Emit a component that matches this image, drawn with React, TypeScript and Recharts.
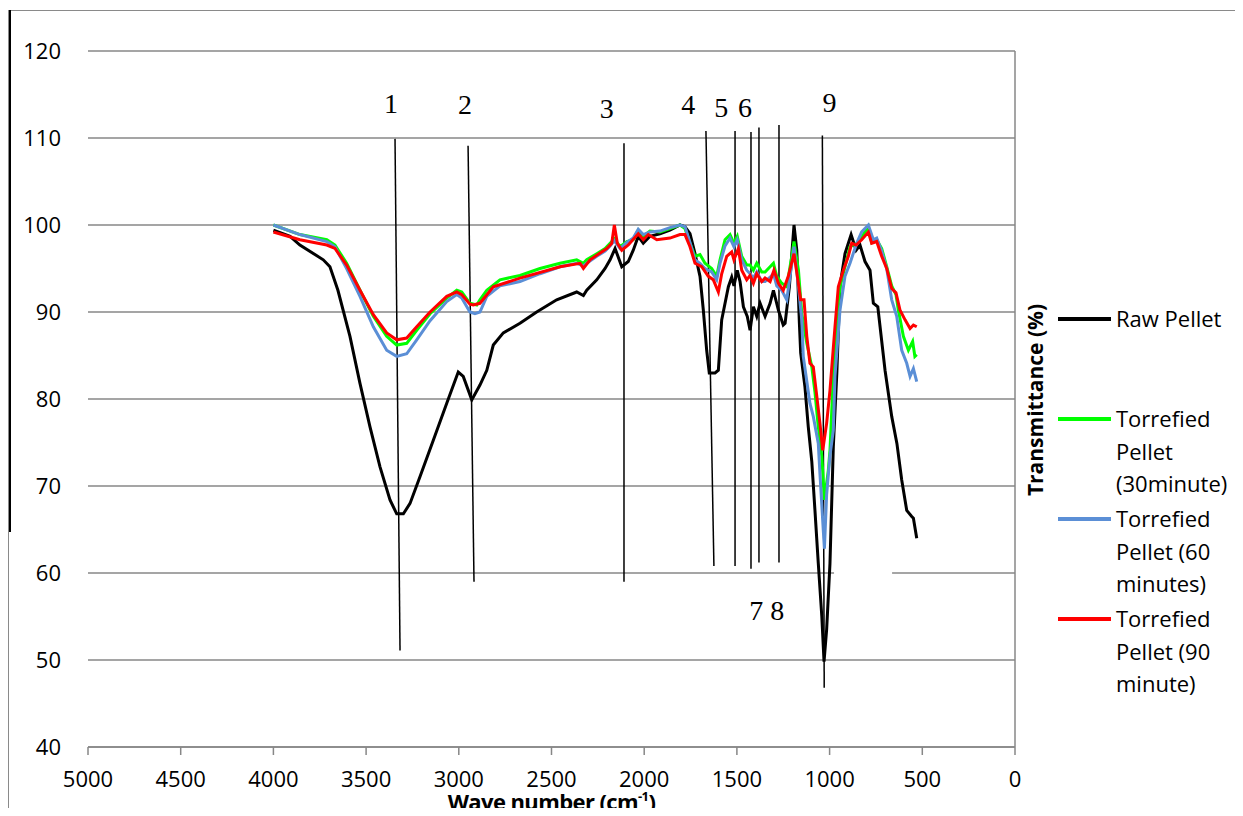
import React from 'react';
import {
  LineChart, Line, XAxis, YAxis, CartesianGrid, ReferenceLine, ReferenceDot, ReferenceArea,
} from 'recharts';

// ---- data (wave number cm-1, transmittance %) ----
const rawPellet: [number, number][] = [
  [4000, 99.4], [3910, 98.7], [3857, 97.7], [3731, 96.0], [3695, 95.2], [3652, 92.5], [3587, 87.2],
  [3533, 81.8], [3479, 76.8], [3425, 72.2], [3371, 68.4], [3335, 66.8], [3299, 66.8], [3263, 68.0],
  [3209, 71.1], [3137, 75.3], [3065, 79.5], [3003, 83.1], [2976, 82.6], [2930, 79.9], [2886, 81.6],
  [2849, 83.3], [2814, 86.2], [2760, 87.6], [2670, 88.7], [2580, 90.0], [2472, 91.4], [2364, 92.3],
  [2328, 91.9], [2310, 92.5], [2256, 93.7], [2211, 95.0], [2184, 96.0], [2157, 97.3], [2121, 95.2],
  [2086, 95.8], [2059, 97.1], [2032, 98.7], [2005, 97.9], [1969, 98.7], [1915, 99.0], [1861, 99.4],
  [1807, 100.0], [1780, 99.8], [1753, 99.0], [1726, 96.7], [1699, 94.1], [1681, 90.2], [1663, 85.6],
  [1649, 83.0], [1618, 83.0], [1600, 83.3], [1582, 89.1], [1546, 92.9], [1528, 94.0], [1516, 93.0],
  [1498, 94.8], [1483, 93.5], [1465, 90.6], [1444, 89.5], [1429, 87.9], [1411, 90.6], [1393, 89.5],
  [1375, 91.0], [1348, 89.5], [1321, 91.0], [1303, 92.5], [1276, 90.2], [1250, 88.5], [1240, 88.7],
  [1217, 92.9], [1192, 100.0], [1177, 97.1], [1163, 88.7], [1156, 85.3], [1133, 81.4], [1115, 76.8],
  [1096, 72.8], [1079, 67.2], [1061, 61.1], [1042, 55.0], [1030, 49.8], [1016, 53.5], [998, 61.1],
  [980, 74.5], [961, 83.0], [944, 93.0], [917, 96.7], [884, 98.9], [857, 97.1], [836, 97.7],
  [809, 95.8], [782, 94.8], [764, 91.0], [740, 90.6], [701, 83.3], [665, 78.0], [637, 74.9],
  [611, 70.7], [584, 67.2], [557, 66.5], [548, 66.3], [530, 64.0],
];

const torrefied30: [number, number][] = [
  [4000, 100.0], [3857, 98.9], [3712, 98.3], [3668, 97.7], [3605, 95.6], [3533, 92.5], [3461, 89.5],
  [3389, 87.2], [3335, 86.2], [3281, 86.4], [3227, 87.9], [3155, 89.8], [3065, 91.6], [3011, 92.5],
  [2984, 92.3], [2940, 91.0], [2903, 90.8], [2886, 91.4], [2849, 92.5], [2778, 93.7], [2670, 94.2],
  [2562, 95.0], [2454, 95.6], [2364, 96.0], [2328, 95.6], [2310, 96.0], [2256, 96.7], [2211, 97.3],
  [2184, 97.9], [2161, 98.4], [2130, 97.5], [2094, 98.1], [2059, 98.3], [2032, 99.4], [2005, 98.7],
  [1969, 99.3], [1915, 99.2], [1861, 99.6], [1807, 100.0], [1780, 99.6], [1753, 97.9], [1726, 96.4],
  [1699, 96.6], [1672, 95.6], [1636, 95.0], [1609, 94.1], [1591, 96.0], [1564, 98.3], [1537, 98.9],
  [1516, 97.9], [1498, 98.7], [1474, 96.4], [1447, 95.4], [1429, 95.4], [1411, 94.8], [1393, 95.6],
  [1366, 94.6], [1348, 94.6], [1321, 95.2], [1303, 95.6], [1285, 94.1], [1258, 93.3], [1231, 92.9],
  [1204, 96.4], [1192, 98.1], [1168, 94.8], [1150, 89.8], [1123, 86.4], [1096, 83.7], [1079, 80.8],
  [1061, 76.8], [1042, 73.4], [1028, 68.4], [1007, 71.8], [998, 74.1], [980, 82.6], [961, 89.1],
  [944, 92.9], [917, 95.2], [890, 97.5], [854, 97.9], [827, 98.6], [791, 99.8], [773, 98.0],
  [746, 98.3], [719, 97.3], [692, 95.2], [665, 93.0], [642, 92.0], [629, 90.2], [602, 87.2],
  [575, 85.6], [552, 86.6], [540, 84.9], [530, 85.1],
];

const torrefied60: [number, number][] = [
  [4000, 100.0], [3857, 98.9], [3712, 98.1], [3668, 97.5], [3605, 95.0], [3533, 91.8], [3461, 88.3],
  [3389, 85.6], [3335, 84.9], [3281, 85.2], [3227, 86.8], [3155, 89.0], [3065, 91.2], [3011, 92.0],
  [2984, 91.6], [2940, 90.0], [2913, 89.8], [2886, 90.0], [2849, 91.8], [2778, 93.0], [2670, 93.5],
  [2562, 94.4], [2454, 95.2], [2364, 95.6], [2328, 95.3], [2310, 95.6], [2256, 96.4], [2211, 97.0],
  [2184, 97.6], [2161, 98.2], [2130, 97.3], [2094, 98.0], [2059, 98.5], [2032, 99.5], [2005, 98.9],
  [1969, 99.2], [1915, 99.3], [1861, 99.7], [1807, 100.0], [1780, 99.8], [1753, 98.0], [1726, 96.0],
  [1699, 95.6], [1672, 95.0], [1636, 94.6], [1609, 93.7], [1591, 95.6], [1564, 97.6], [1537, 98.5],
  [1516, 97.5], [1498, 98.3], [1474, 96.0], [1447, 94.8], [1429, 94.4], [1411, 93.9], [1393, 94.6],
  [1366, 93.5], [1348, 93.5], [1321, 94.0], [1303, 94.4], [1285, 93.0], [1258, 92.5], [1231, 91.4],
  [1204, 95.5], [1192, 97.5], [1168, 92.9], [1150, 89.1], [1142, 84.9], [1106, 79.5], [1088, 78.0],
  [1061, 74.9], [1052, 71.4], [1034, 64.9], [1028, 62.8], [1016, 69.0], [998, 73.5], [980, 76.4],
  [971, 82.6], [944, 90.2], [917, 94.1], [890, 95.6], [854, 97.9], [827, 99.2], [791, 100.0],
  [764, 98.3], [746, 98.5], [719, 97.0], [692, 95.0], [665, 91.4], [638, 89.5], [611, 85.6],
  [584, 84.1], [566, 82.6], [548, 83.5], [530, 82.0],
];

const torrefied90: [number, number][] = [
  [4000, 99.2], [3857, 98.3], [3712, 97.7], [3668, 97.3], [3605, 95.4], [3533, 92.5], [3461, 89.7],
  [3389, 87.6], [3335, 86.8], [3281, 87.0], [3227, 88.3], [3155, 90.0], [3065, 91.8], [3011, 92.3],
  [2984, 92.0], [2940, 90.9], [2922, 90.8], [2886, 91.0], [2814, 92.9], [2670, 93.9], [2454, 95.2],
  [2346, 95.6], [2328, 95.0], [2292, 96.0], [2202, 97.3], [2175, 97.9], [2161, 100.0], [2145, 97.9],
  [2121, 97.1], [2086, 97.7], [2032, 99.0], [2005, 98.3], [1978, 98.9], [1932, 98.3], [1861, 98.5],
  [1807, 98.9], [1780, 98.9], [1753, 97.5], [1726, 95.6], [1690, 95.2], [1654, 94.1], [1627, 93.7],
  [1600, 92.3], [1582, 94.4], [1555, 96.4], [1528, 96.9], [1516, 96.0], [1492, 97.3], [1474, 94.8],
  [1447, 93.7], [1429, 94.2], [1411, 93.3], [1393, 94.4], [1366, 93.5], [1348, 93.9], [1321, 93.5],
  [1300, 94.8], [1276, 93.3], [1250, 92.5], [1223, 94.1], [1192, 96.7], [1174, 94.1], [1156, 91.4],
  [1138, 91.4], [1123, 87.2], [1106, 84.1], [1088, 83.7], [1069, 80.3], [1052, 77.2], [1037, 74.1],
  [1016, 77.2], [998, 81.0], [971, 88.3], [953, 92.9], [926, 94.8], [899, 96.4], [881, 97.9],
  [857, 97.7], [827, 98.3], [791, 99.2], [773, 97.9], [746, 98.1], [719, 96.4], [692, 95.0],
  [665, 92.7], [642, 92.2], [620, 90.2], [593, 89.1], [566, 88.1], [548, 88.5], [530, 88.3],
];

const xTicks = [0, 500, 1000, 1500, 2000, 2500, 3000, 3500, 4000, 4500, 5000];
const yTicks = [40, 50, 60, 70, 80, 90, 100, 110, 120];

const seriesNames = ['Raw Pellet', 'Torrefied Pellet (30minute)', 'Torrefied Pellet (60 minutes)', 'Torrefied Pellet (90 minute)'];
const seriesColors = ['#000000', '#00ff00', '#5b8fd6', '#ff0000'];
const legendLines = [
  ['Raw Pellet'],
  ['Torrefied', 'Pellet', '(30minute)'],
  ['Torrefied', 'Pellet (60', 'minutes)'],
  ['Torrefied', 'Pellet (90', 'minute)'],
];

// band marker lines: [x1, y1, x2, y2]
const bandLines: [number, number, number, number][] = [
  [3344, 109.9, 3317, 51.1],
  [2950, 109.1, 2918, 59.0],
  [2109, 109.4, 2109, 59.0],
  [1667, 110.8, 1624, 60.8],
  [1510, 110.8, 1510, 60.8],
  [1424, 110.7, 1424, 60.5],
  [1381, 111.2, 1381, 61.2],
  [1273, 111.5, 1273, 61.2],
  [1039, 110.3, 1029, 46.8],
];
// band labels: [text, x, y]
const bandLabels: [string, number, number][] = [
  ['1', 3366, 114.0],
  ['2', 2967, 113.9],
  ['3', 2202, 113.4],
  ['4', 1762, 113.9],
  ['5', 1584, 113.5],
  ['6', 1456, 113.5],
  ['9', 1001, 114.1],
  ['7 8', 1339, 55.7],
];

const toPoints = (arr: [number, number][]) => arr.map(([x, y]) => ({ x, y }));
const seriesData = [rawPellet, torrefied30, torrefied60, torrefied90].map(toPoints);

const FONT = '"Open Sans", "Noto Sans", sans-serif';
const GRID = '#878787';

const LegendBox = () => (
  <div style={{ position: 'absolute', left: 1042, top: 0, width: 185, height: 700, fontFamily: FONT, fontSize: 22, color: '#000' }}>
    {legendLines.map((lines, i) => (
      <div key={i} style={{ position: 'absolute', left: 0, top: 294 + i * 100, lineHeight: '32.5px' }}>
        <div style={{ position: 'absolute', left: 8, top: 14.5, width: 53, height: 4, background: seriesColors[i] }} />
        {lines.map((t, j) => (
          <div key={j} style={{ marginLeft: 66, whiteSpace: 'nowrap' }}>{t}</div>
        ))}
      </div>
    ))}
  </div>
);

const XTitle = () => (
  <div style={{ position: 'absolute', left: 80, width: 927, top: 782, height: 22, textAlign: 'center', fontFamily: FONT, fontWeight: 'bold', fontSize: 22, lineHeight: '22px', letterSpacing: -0.6, color: '#000', whiteSpace: 'nowrap' }}>
    Wave number (cm<span style={{ fontSize: 13, position: 'relative', top: -9 }}>-1</span>)
  </div>
);

const YTitle = () => (
  <text x={1027} y={392} transform="rotate(-90 1027 392)" textAnchor="middle" dominantBaseline="central"
    fontFamily={FONT} fontWeight="bold" fontSize={21} fill="#000">
    Transmittance (%)
  </text>
);

export default function App() {
  return (
    <div style={{ position: 'relative', width: 1227, height: 808, marginBottom: -8 }}>
      <div style={{ position: 'absolute', left: 0, top: 2, width: 1226, height: 805, borderTop: '1px solid #8a8a8a', borderLeft: '1px solid #8a8a8a' }} />
      <div style={{ position: 'absolute', left: 1, top: 2, width: 2, height: 522, background: '#000' }} />
      <LineChart width={1227} height={800} margin={{ top: 43, right: 220, bottom: 0, left: 0 }}>
        <CartesianGrid horizontal vertical={false} stroke={GRID} strokeWidth={1.5} />
        <XAxis
          type="number" dataKey="x" domain={[0, 5000]} ticks={xTicks} reversed allowDataOverflow
          height={61} tickSize={8} tickMargin={16} stroke={GRID} strokeWidth={1.5}
          axisLine={{ stroke: GRID, strokeWidth: 1.5 }} tickLine={{ stroke: GRID, strokeWidth: 1.5 }}
          tick={{ fontFamily: FONT, fontSize: 22, fill: '#000' }}
        />
        <YAxis
          type="number" domain={[40, 120]} ticks={yTicks} width={80} axisLine={false} tickLine={false}
          tickSize={0} tickMargin={27} tick={{ fontFamily: FONT, fontSize: 22, fill: '#000' }}
          label={<YTitle />}
        />
        <ReferenceLine x={0} stroke={GRID} strokeWidth={1.5} />
        <ReferenceArea x1={976} x2={663} y1={59.6} y2={60.4} fill="#ffffff" fillOpacity={1} stroke="none" />
        {bandLines.map(([x1, y1, x2, y2], i) => (
          <ReferenceLine key={'bl' + i} segment={[{ x: x1, y: y1 }, { x: x2, y: y2 }]} stroke="#000" strokeWidth={1.5} />
        ))}
        {bandLabels.map(([t, x, y], i) => (
          <ReferenceDot key={'lb' + i} x={x} y={y} r={0} fill="none" stroke="none"
            label={{ value: t, position: 'center', fontFamily: '"Liberation Serif", "DejaVu Serif", serif', fontSize: 28, fill: '#000' }} />
        ))}
        {seriesData.map((d, i) => (
          <Line key={seriesNames[i]} name={seriesNames[i]} data={d} dataKey="y" type="linear"
            stroke={seriesColors[i]} strokeWidth={3} dot={false} activeDot={false} isAnimationActive={false} />
        ))}
      </LineChart>
      <LegendBox />
      <XTitle />
    </div>
  );
}
